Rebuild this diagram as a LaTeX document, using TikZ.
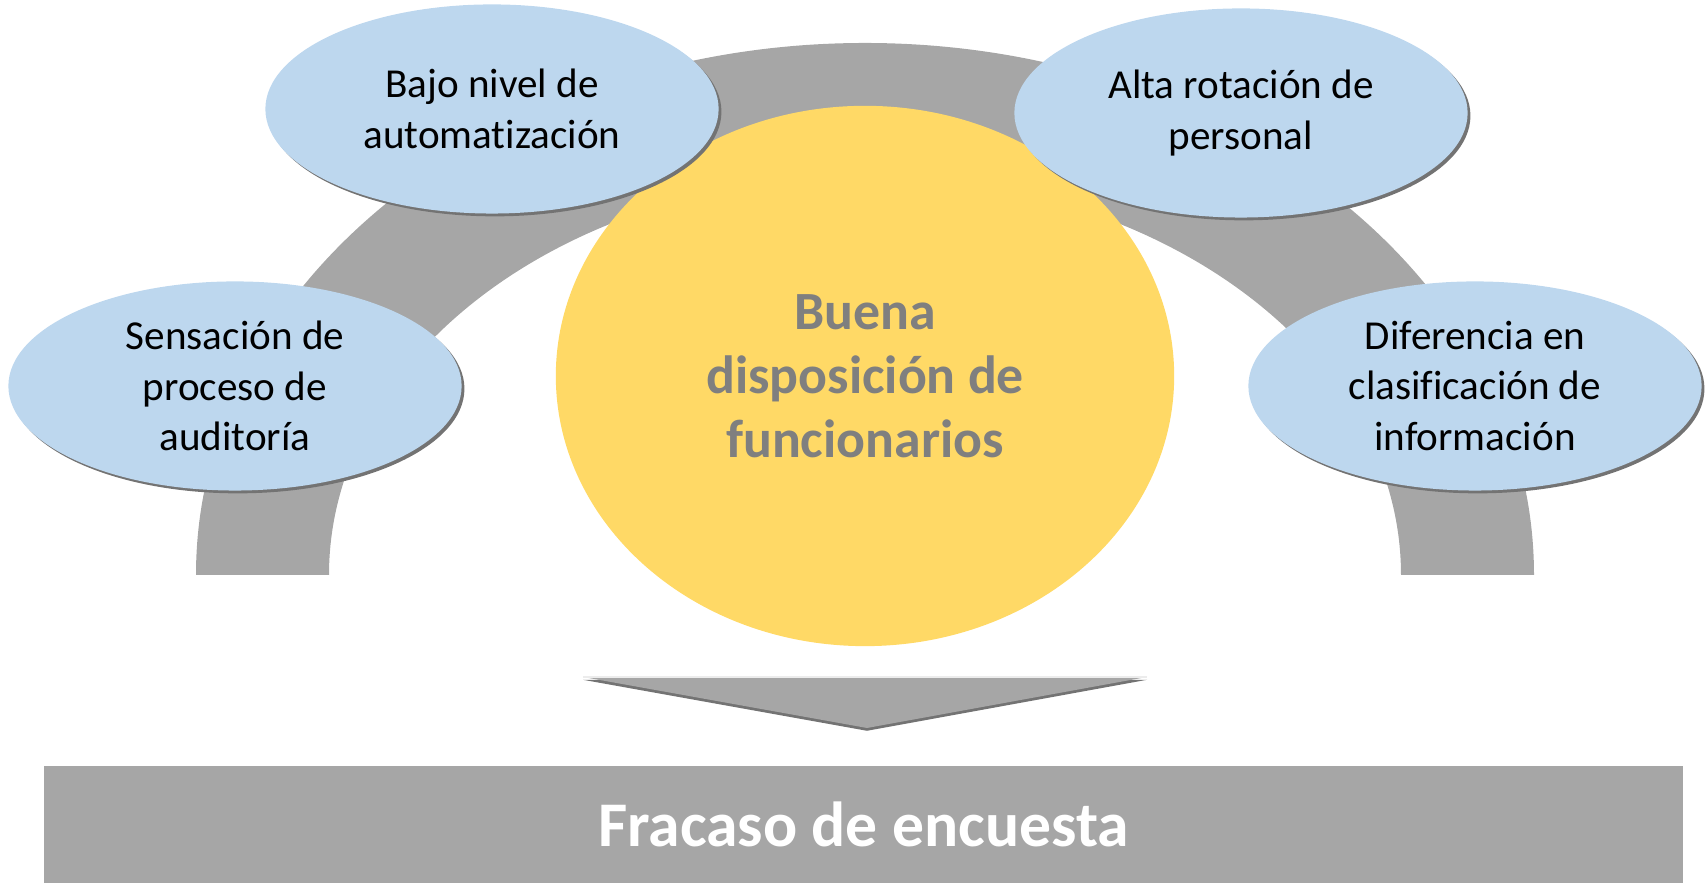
\documentclass[tikz,border=0pt]{standalone}
\usepackage{fontspec}
\setmainfont{Carlito}[Ligatures=NoCommon]
\usetikzlibrary{shapes.geometric, shadows}

\definecolor{archgray}{HTML}{A6A6A6}
\definecolor{causeblue}{HTML}{BDD7EE}
\definecolor{coreyellow}{HTML}{FFD966}
\definecolor{coretext}{HTML}{7F7F7F}

\begin{document}
\begin{tikzpicture}[x=0.01cm, y=0.01cm,
        cause/.style={ellipse, fill=causeblue, inner sep=0pt, align=center,
            minimum width=4.53cm, minimum height=2.09cm,
            font=\fontsize{11.7}{14.3}\selectfont,
            drop shadow={shadow xshift=0.8pt, shadow yshift=-0.8pt, fill=black!55, opacity=1}},
        core/.style={ellipse, fill=coreyellow, inner sep=0pt, align=center,
            minimum width=6.18cm, minimum height=5.40cm, text=coretext,
            font=\fontsize{15.3}{18.2}\selectfont\bfseries}]
        \useasboundingbox (0,0) rectangle (1708,883);

        % arch behind everything
        \fill [archgray] (196,308) arc[start angle=180, end angle=0, x radius=669, y radius=532]
            -- (1401,308) arc[start angle=0, end angle=180, x radius=536, y radius=399] -- cycle;

        \node [core] (buena) at (865,507) {Buena\\disposición de\\funcionarios};

        \node [cause] (bajo) at (492,774) {Bajo nivel de\\automatización};
        \node [cause] (alta) at (1241,770) {Alta rotación de\\personal};
        \node [cause] (sensacion) at (235,497) {Sensación de\\proceso de\\auditoría};
        \node [cause] (diferencia) at (1475,497) {Diferencia en\\clasificación de\\información};

        % arrow down to the result
        \fill [archgray, drop shadow={shadow xshift=0pt, shadow yshift=-0.8pt, fill=black!55, opacity=1}]
            (583,206) -- (1147,206) -- (867,155) -- cycle;
        \draw [white!85!gray, thin] (583,206) -- (1147,206);

        \node [fill=archgray, inner sep=0pt, minimum width=16.39cm, minimum height=1.17cm,
            text=white, font=\fontsize{18.1}{22}\selectfont\bfseries] (fracaso) at (863.5,58.5) {Fracaso de encuesta};
    \end{tikzpicture}
\end{document}
